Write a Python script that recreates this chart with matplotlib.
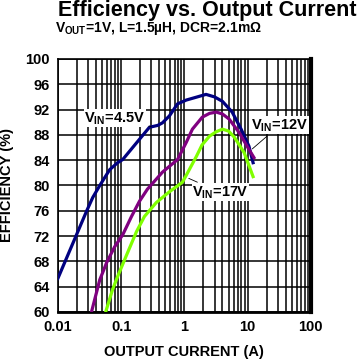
import matplotlib.pyplot as plt

plt.rcParams["font.family"] = ["Liberation Sans", "DejaVu Sans"]
plt.rcParams["mathtext.fontset"] = "custom"
plt.rcParams["mathtext.rm"] = "Liberation Sans:bold"
plt.rcParams["mathtext.bf"] = "Liberation Sans:bold"

# efficiency curves (current in A, efficiency in %)
i_45 = [0.01, 0.0286, 0.0356, 0.046, 0.066, 0.088, 0.106, 0.195, 0.28, 0.38, 0.45,
        0.58, 0.78, 1.07, 1.6, 2.2, 3.0, 4.0, 5.7, 7.9, 10.5, 12.2]
eff_45 = [65.3, 76.0, 78.1, 80.0, 82.5, 83.6, 84.1, 87.3, 89.2, 89.5, 89.9,
          91.0, 92.9, 93.5, 94.0, 94.4, 94.0, 93.3, 91.6, 88.9, 86.2, 83.6]

i_12 = [0.034, 0.046, 0.051, 0.059, 0.079, 0.106, 0.146, 0.195, 0.26, 0.36,
        0.45, 0.78, 1.07, 1.34, 1.92, 2.5, 3.2, 4.0, 5.1, 7.3, 9.8, 12.6]
eff_12 = [60.0, 65.1, 66.2, 67.8, 70.3, 72.2, 75.1, 77.5, 79.4, 81.0,
          82.1, 84.1, 86.8, 88.9, 90.8, 91.4, 91.6, 91.3, 90.5, 88.4, 86.2, 84.4]

i_17 = [0.057, 0.073, 0.088, 0.122, 0.175, 0.234, 0.36, 0.58, 0.93, 1.07,
        1.55, 1.9, 2.5, 3.2, 4.0, 5.0, 6.2, 8.8, 12.2]
eff_17 = [60.0, 63.5, 65.6, 69.0, 72.7, 75.1, 77.3, 79.0, 80.5, 81.6,
          84.6, 86.4, 87.8, 88.5, 88.9, 88.6, 87.6, 85.2, 81.4]

y_ticks = list(range(60, 101, 4))
x_ticks = [0.01, 0.1, 1, 10, 100]
x_labels = ["0.01", "0.1", "1", "10", "100"]

fig = plt.figure(figsize=(3.64, 3.64), dpi=100)
ax = fig.add_axes([0.159, 0.143, 0.695, 0.695])

ax.plot(i_45, eff_45, color="#000080", linewidth=2.3, zorder=3)
ax.plot(i_12, eff_12, color="#800080", linewidth=2.3, zorder=3)
ax.plot(i_17, eff_17, color="#80ff00", linewidth=2.3, zorder=3)

ax.set_xscale("log")
ax.set_xlim(0.01, 100)
ax.set_ylim(60, 100)
ax.set_yticks(y_ticks)
ax.set_xticks(x_ticks)
ax.set_xticklabels(x_labels)
ax.tick_params(which="both", length=0, labelsize=10.5, pad=6)
for lab in ax.get_xticklabels() + ax.get_yticklabels():
    lab.set_fontweight("bold")

ax.grid(which="both", axis="x", color="black", linewidth=1.1)
ax.grid(which="major", axis="y", color="black", linewidth=1.1)
ax.set_axisbelow(True)
for side in ["left", "top", "bottom"]:
    ax.spines[side].set_linewidth(1.2)
ax.spines["right"].set_linewidth(3)
ax.spines["bottom"].set_linewidth(2)

ax.set_xlabel("OUTPUT CURRENT (A)", fontsize=10.5, fontweight="bold", labelpad=8)
ax.set_ylabel("EFFICIENCY (%)", fontsize=10.5, fontweight="bold", labelpad=8)

box = dict(facecolor="white", edgecolor="none", pad=0.5)
line = dict(arrowstyle="-", color="black", linewidth=0.6)
ax.annotate(r"V$_{\rm IN}$=4.5V", xy=(0.3, 89.3), xytext=(0.08, 90.6), fontweight="bold",
            fontsize=10.5, ha="center", va="center", bbox=box, arrowprops=line, zorder=4)
ax.annotate(r"V$_{\rm IN}$=12V", xy=(11, 85.5), xytext=(32, 89.5), fontweight="bold",
            fontsize=10.5, ha="center", va="center", bbox=box, arrowprops=line, zorder=4)
ax.annotate(r"V$_{\rm IN}$=17V", xy=(1.07, 81.3), xytext=(3.7, 78.9), fontweight="bold",
            fontsize=10.5, ha="center", va="center", bbox=box, arrowprops=line, zorder=4)

fig.text(0.57, 0.970, "Efficiency vs. Output Current", fontsize=15.5,
         fontweight="bold", ha="center", va="center")
fig.text(0.151, 0.922, r"V$_{\rm OUT}$=1V, L=1.5µH, DCR=2.1mΩ", fontsize=10,
         fontweight="bold", ha="left", va="center")

fig.savefig("out.png", dpi=100)
